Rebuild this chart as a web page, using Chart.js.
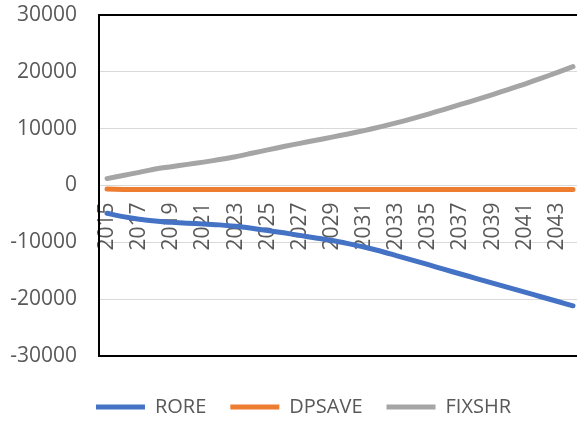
<!DOCTYPE html>
<html>
<head>
<meta charset="utf-8">
<script src="https://cdn.jsdelivr.net/npm/chart.js@4/dist/chart.umd.min.js"></script>
<style>
  html, body { margin: 0; padding: 0; background: #ffffff; overflow: hidden; }
  #wrap { position: relative; width: 606px; height: 427px; }
</style>
</head>
<body>
<div id="wrap"><canvas id="chart"></canvas></div>
<script>
const years = ['2015','2016','2017','2018','2019','2020','2021','2022','2023','2024',
               '2025','2026','2027','2028','2029','2030','2031','2032','2033','2034',
               '2035','2036','2037','2038','2039','2040','2041','2042','2043','2044'];

const rore = [-4900,-5500,-5950,-6250,-6500,-6650,-6800,-6950,-7200,-7550,
              -7950,-8350,-8800,-9250,-9700,-10250,-10850,-11550,-12350,-13150,
              -13950,-14800,-15600,-16400,-17200,-18000,-18800,-19600,-20400,-21200];

const dpsave = [-650,-700,-700,-700,-700,-700,-700,-700,-700,-700,
                -700,-700,-700,-700,-700,-700,-700,-700,-700,-700,
                -700,-700,-700,-700,-700,-700,-700,-700,-700,-700];

const fixshr = [1200,1750,2300,2900,3300,3700,4100,4550,5050,5650,
                6250,6850,7400,7950,8500,9050,9650,10300,11000,11750,
                12550,13400,14250,15100,16000,16900,17850,18850,19850,20900];

const yTicks = [-30000,-20000,-10000,0,10000,20000,30000];

const textColor = '#595959';
const fontFamily = '"Open Sans", Lato, sans-serif';

function series(label, data, color) {
  return {
    label, data,
    borderColor: color,
    backgroundColor: color,
    borderWidth: 5,
    borderCapStyle: 'round',
    borderJoinStyle: 'round',
    pointRadius: 0,
    pointHoverRadius: 0,
    tension: 0.2,
    fill: false
  };
}

// Nudge the legend row to the right so it is centred under the whole figure.
const legendShift = {
  id: 'legendShift',
  afterLayout(chart) {
    const lg = chart.legend;
    if (lg) { lg.left += 13; lg.right += 13; }
  }
};

function noPadding(scale) {
  scale.paddingTop = 0;
  scale.paddingBottom = 0;
  scale.paddingLeft = 0;
  scale.paddingRight = 0;
}

new Chart(document.getElementById('chart'), {
  type: 'line',
  data: {
    labels: years,
    datasets: [
      series('RORE', rore, '#4472C4'),
      series('DPSAVE', dpsave, '#ED7D31'),
      series('FIXSHR', fixshr, '#A5A5A5')
    ]
  },
  plugins: [legendShift],
  options: {
    responsive: true,
    maintainAspectRatio: false,
    animation: false,
    layout: { padding: { top: 15, left: 0, right: 25, bottom: 0 } },
    plugins: {
      tooltip: { enabled: false },
      legend: {
        position: 'bottom',
        title: { display: true, text: '', font: { size: 1 }, padding: { top: 16, bottom: 0 } },
        labels: {
          usePointStyle: true,
          pointStyle: 'line',
          pointStyleWidth: 49,
          padding: 24,
          color: textColor,
          font: { family: fontFamily, size: 20 }
        }
      }
    },
    scales: {
      x: {
        type: 'category',
        position: { y: 0 },
        offset: true,
        afterFit: noPadding,
        grid: { display: false, drawTicks: false },
        border: { display: false },
        ticks: {
          autoSkip: false,
          maxRotation: 90,
          minRotation: 90,
          padding: 17,
          color: textColor,
          font: { family: fontFamily, size: 21 },
          callback: function (value, index) {
            return index % 2 === 0 ? this.getLabelForValue(value) : '';
          }
        }
      },
      y: {
        min: -30000,
        max: 30000,
        afterBuildTicks: (scale) => { scale.ticks = yTicks.map(v => ({ value: v })); },
        afterFit: (scale) => { scale.width = 99; noPadding(scale); },
        grid: {
          drawTicks: false,
          color: (c) => (Math.abs(c.tick.value) === 30000 ? '#000000' : '#D9D9D9'),
          lineWidth: (c) => (Math.abs(c.tick.value) === 30000 ? 2 : 1)
        },
        border: { display: true, color: '#000000', width: 2 },
        ticks: {
          padding: 22,
          color: textColor,
          font: { family: fontFamily, size: 21 },
          callback: (v) => String(v)
        }
      }
    }
  }
});
</script>
</body>
</html>
